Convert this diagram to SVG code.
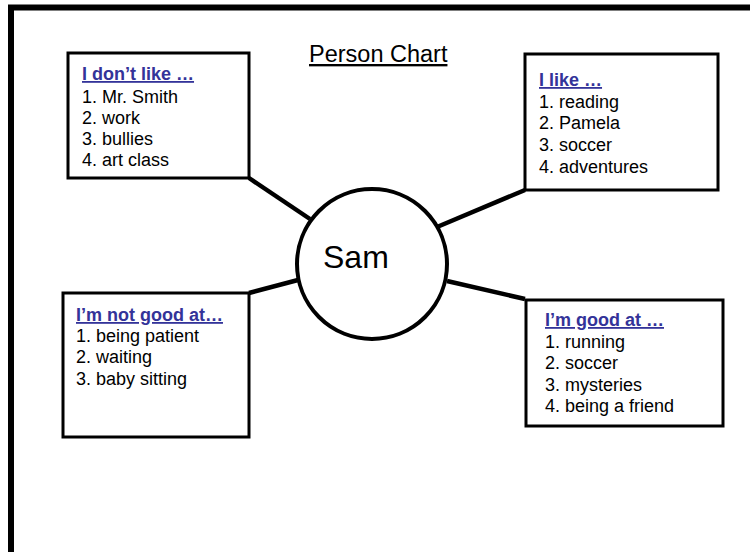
<svg xmlns="http://www.w3.org/2000/svg" width="750" height="552" viewBox="0 0 750 552">
<style>
.box{fill:#fff;stroke:#000;stroke-width:3}
.hd{font-family:"Liberation Sans",Arial,sans-serif;font-size:18px;font-weight:bold;fill:#333399;text-decoration:underline}
.it{font-family:"Liberation Sans",Arial,sans-serif;font-size:18px;fill:#000}
.con{stroke:#000;stroke-width:4.5;fill:none}
</style>
<rect width="750" height="552" fill="#fff"/>
<path d="M11,552 V7.5 H750" fill="none" stroke="#000" stroke-width="6"/>
<text x="309" y="62" font-family="'Liberation Sans',Arial,sans-serif" font-size="23.5" text-decoration="underline">Person Chart</text>
<g id="connectors">
<line class="con" x1="249" y1="178" x2="310" y2="219"/>
<line class="con" x1="525" y1="190" x2="437" y2="227"/>
<line class="con" x1="249" y1="293" x2="298" y2="280"/>
<line class="con" x1="525" y1="299" x2="447" y2="281"/>
</g>
<g id="sam">
<circle cx="372" cy="264" r="75" fill="#fff" stroke="#000" stroke-width="4"/>
<text x="323" y="268" font-family="'Liberation Sans',Arial,sans-serif" font-size="32">Sam</text>
</g>
<g id="dont-like">
<rect class="box" x="68" y="53" width="181" height="125"/>
<text class="hd" x="82" y="80">I don’t like …</text>
<text class="it" x="82" y="103">1. Mr. Smith</text>
<text class="it" x="82" y="124">2. work</text>
<text class="it" x="82" y="145">3. bullies</text>
<text class="it" x="82" y="166">4. art class</text>
</g>
<g id="like">
<rect class="box" x="525" y="54" width="193" height="136"/>
<text class="hd" x="539" y="86">I like …</text>
<text class="it" x="539" y="108">1. reading</text>
<text class="it" x="539" y="129">2. Pamela</text>
<text class="it" x="539" y="151">3. soccer</text>
<text class="it" x="539" y="173">4. adventures</text>
</g>
<g id="not-good">
<rect class="box" x="63" y="293" width="186" height="144"/>
<text class="hd" x="76" y="321">I’m not good at…</text>
<text class="it" x="76" y="342">1. being patient</text>
<text class="it" x="76" y="363">2. waiting</text>
<text class="it" x="76" y="385">3. baby sitting</text>
</g>
<g id="good">
<rect class="box" x="526" y="300" width="197" height="126"/>
<text class="hd" x="545" y="326">I’m good at …</text>
<text class="it" x="545" y="348">1. running</text>
<text class="it" x="545" y="369">2. soccer</text>
<text class="it" x="545" y="391">3. mysteries</text>
<text class="it" x="545" y="412">4. being a friend</text>
</g>
</svg>
